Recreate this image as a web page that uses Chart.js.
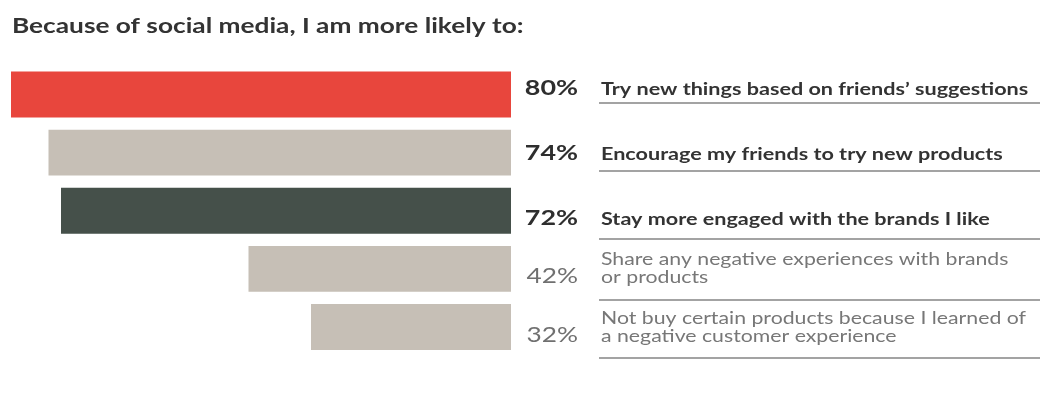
<!DOCTYPE html>
<html>
<head>
<meta charset="utf-8">
<script src="https://cdn.jsdelivr.net/npm/chart.js@4.4.1/dist/chart.umd.min.js"></script>
<style>
  html, body { margin: 0; padding: 0; background: #ffffff; }
  #wrap { width: 1040px; height: 394px; position: relative; }
</style>
</head>
<body>
<div id="wrap"><canvas id="chart" width="1040" height="394"></canvas></div>
<script>
// ---- data ----
const title = 'Because of social media, I am more likely to:';
const categories = [
  ['Try new things based on friends\u2019 suggestions'],
  ['Encourage my friends to try new products'],
  ['Stay more engaged with the brands I like'],
  ['Share any negative experiences with brands', 'or products'],
  ['Not buy certain products because I learned of', 'a negative customer experience']
];
const values = [80, 74, 72, 42, 32];
const valueLabels = ['80%', '74%', '72%', '42%', '32%'];
const emphasised = [true, true, true, false, false];

// ---- styling ----
const barColors = ['#E8463D', '#C6BFB6', '#45504A', '#C6BFB6', '#C6BFB6'];
const FONT = 'Lato, "Open Sans", "DejaVu Sans", sans-serif';
const STRETCH = 1.25; // wide set type
// vertical offsets (px) from each bar's centre: baseline of the last text line, and the rule below it
const baselineDy = [0.5, 7, 14, 14, 15];
const ruleDy = [8.5, 18, 28, 31, 31];
const lineGap = 18;

function wideText(ctx, text, x, y) {
  ctx.save();
  ctx.translate(x, y);
  ctx.scale(STRETCH, 1);
  ctx.fillText(text, 0, 0);
  ctx.restore();
}

const labelsPlugin = {
  id: 'rowLabels',
  afterDraw(chart) {
    const ctx = chart.ctx;
    const y = chart.scales.y;
    ctx.save();
    ctx.textBaseline = 'alphabetic';
    // heading
    ctx.fillStyle = '#333333';
    ctx.font = 'bold 21px ' + FONT;
    ctx.textAlign = 'left';
    wideText(ctx, title, 12, 33);

    categories.forEach((lines, i) => {
      const yc = y.getPixelForValue(i);
      const base = yc + baselineDy[i];
      const strong = emphasised[i];
      // percentage
      ctx.textAlign = 'right';
      ctx.fillStyle = strong ? '#2E2E2E' : '#707070';
      ctx.font = (strong ? 'bold 21.5px ' : '21px ') + FONT;
      wideText(ctx, valueLabels[i], 578, base);
      // description
      ctx.textAlign = 'left';
      ctx.fillStyle = strong ? '#333333' : '#777777';
      ctx.font = (strong ? 'bold 17.3px ' : '17px ') + FONT;
      lines.forEach((t, k) => {
        wideText(ctx, t, 601, base - (lines.length - 1 - k) * lineGap);
      });
      // rule
      ctx.fillStyle = '#A3A3A3';
      ctx.fillRect(599, Math.round(yc + ruleDy[i]) - 1, 441, 2);
    });
    ctx.restore();
  }
};

new Chart(document.getElementById('chart'), {
  type: 'bar',
  data: {
    labels: categories.map(c => c.join(' ')),
    datasets: [{
      data: values,
      backgroundColor: barColors,
      borderWidth: 0,
      borderSkipped: false,
      barPercentage: 0.79,
      categoryPercentage: 1
    }]
  },
  options: {
    indexAxis: 'y',
    responsive: false,
    devicePixelRatio: 1,
    animation: false,
    layout: { padding: { left: 11, right: 529, top: 65.5, bottom: 38 } },
    scales: {
      x: { type: 'linear', reverse: true, min: 0, max: 80, display: false },
      y: { type: 'category', display: false, offset: true }
    },
    plugins: { legend: { display: false }, tooltip: { enabled: false }, title: { display: false } }
  },
  plugins: [labelsPlugin]
});
</script>
</body>
</html>
